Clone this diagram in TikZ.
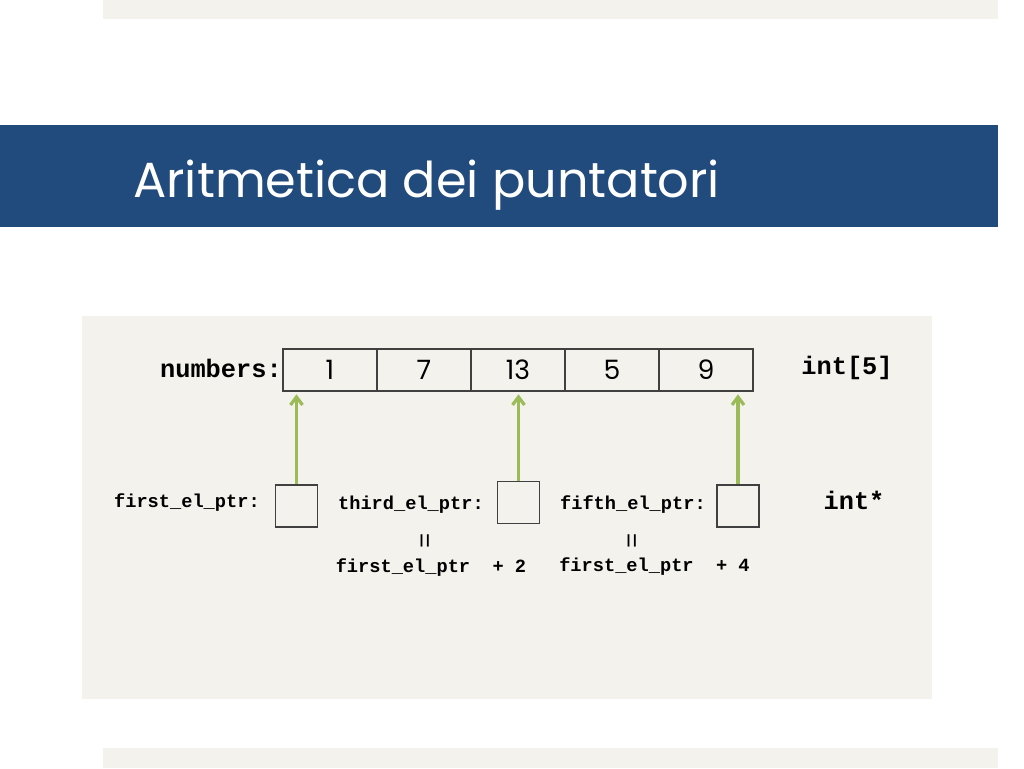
\documentclass[tikz,border=0pt]{standalone}
\usepackage{fontspec}
\setmainfont{Poppins}
\setmonofont{Liberation Mono}
\usetikzlibrary{arrows.meta, positioning}
\definecolor{titleblue}{RGB}{33,74,125}
\definecolor{panelgrey}{RGB}{243,242,237}
\definecolor{ptrgreen}{RGB}{155,187,89}

\begin{document}
\begin{tikzpicture}[x=0.75pt,y=-0.75pt,
    cell/.style={draw=black!75, line width=0.9pt, minimum width=70.5pt, minimum height=31.5pt,
        inner sep=0pt, font=\fontsize{20}{20}\selectfont},
    ptrbox/.style={draw=black!75, line width=0.9pt, minimum size=31.5pt, inner sep=0pt},
    lbl/.style={inner sep=0pt, font=\ttfamily\bfseries\fontsize{14}{14}\selectfont},
    eqlbl/.style={inner sep=0pt, rotate=90, font=\ttfamily\fontsize{19}{19}\selectfont},
    typelbl/.style={inner sep=0pt, font=\ttfamily\bfseries\fontsize{19}{19}\selectfont},
    ptrarrow/.style={-{Straight Barb[length=6pt,width=9pt]}, ptrgreen, line width=2.4pt, shorten >=2pt}]
    \useasboundingbox (0,0) rectangle (1024,768);
    % slide background
    \fill[panelgrey] (103,0) rectangle (998,19);
    \fill[titleblue] (0,125) rectangle (998,227);
    \fill[panelgrey] (103,748) rectangle (998,768);
    \fill[panelgrey] (82,316) rectangle (932,699);
    \node[anchor=base west, text=white, inner sep=0pt, font=\fontsize{37}{37}\selectfont] (title) at (133,197) {Aritmetica dei puntatori};
    % array cells
    \foreach \v [count=\i] in {1,7,13,5,9} {
        \node[cell] (c\i) at ({330+(\i-1)*94}, 370) {\v};
    }
    \node[typelbl, anchor=east] (arrname) at (282,368) {numbers:};
    \node[typelbl] (arrtype) at (847,368) {int[5]};
    % pointer boxes
    \node[ptrbox] (p1) at (296.5,506) {};
    \node[ptrbox] (p3) at (518.5,502.5) {};
    \node[ptrbox] (p5) at (738,506) {};
    \node[lbl, anchor=east] (l1) at (260,503) {first\_el\_ptr:};
    \node[lbl, anchor=east] (l3) at (484,505) {third\_el\_ptr:};
    \node[lbl, anchor=east] (l5) at (706,505) {fifth\_el\_ptr:};
    \node[typelbl] (ptrtype) at (854,500) {int*};
    % equivalences
    \node[eqlbl] (eq3) at (427,541) {=};
    \node[lbl] (ex3) at (431,568) {first\_el\_ptr\ \ + 2};
    \node[eqlbl] (eq5) at (634,541) {=};
    \node[lbl] (ex5) at (654.5,567) {first\_el\_ptr\ \ + 4};
    % pointer arrows
    \draw[ptrarrow] (p1.north) -- (p1.north |- c1.south);
    \draw[ptrarrow] (p3.north) -- (p3.north |- c3.south);
    \draw[ptrarrow] (p5.north) -- (p5.north |- c5.south);
\end{tikzpicture}
\end{document}
